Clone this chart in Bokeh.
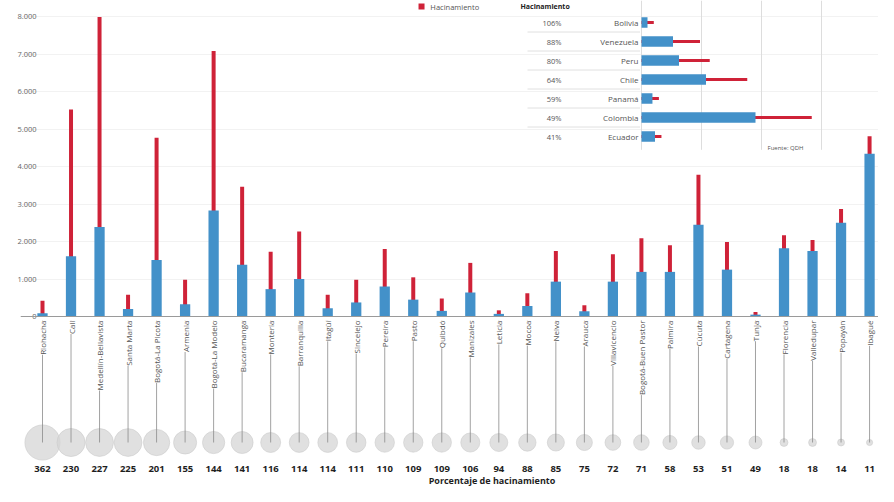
import math
from bokeh.plotting import figure
from bokeh.models import Range1d, FixedTicker, Span
from bokeh.core.properties import value
from bokeh.embed import file_html
from bokeh.resources import INLINE

# ---- data ----
ciudades = ["Riohacha", "Cali", "Medellín-Bellavista", "Santa Marta", "Bogotá-La Picota",
            "Armenia", "Bogotá-La Modelo", "Bucaramanga", "Montería", "Barranquilla",
            "Itagüí", "Sincelejo", "Pereira", "Pasto", "Quibdó", "Manizales", "Leticia",
            "Mocoa", "Neiva", "Arauca", "Villavicencio", "Bogotá-Buen Pastor", "Palmira",
            "Cúcuta", "Cartagena", "Tunja", "Florencia", "Valledupar", "Popayán", "Ibagué"]
porcentaje = [362, 230, 227, 225, 201, 155, 144, 141, 116, 114, 114, 111, 110, 109, 109,
              106, 94, 88, 85, 75, 72, 71, 58, 53, 51, 49, 18, 18, 14, 11]
capacidad = [90, 1610, 2390, 200, 1510, 330, 2830, 1380, 730, 1000, 220, 375, 800, 450, 150,
             640, 70, 280, 930, 140, 930, 1190, 1190, 2450, 1250, 50, 1820, 1750, 2500, 4340]
poblacion = [420, 5520, 7990, 580, 4770, 980, 7080, 3460, 1730, 2270, 580, 980, 1800, 1045, 480,
             1430, 165, 620, 1750, 300, 1660, 2090, 1900, 3780, 1990, 120, 2170, 2040, 2870, 4810]
yticks = [0, 1000, 2000, 3000, 4000, 5000, 6000, 7000, 8000]

paises = ["Bolivia", "Venezuela", "Peru", "Chile", "Panamá", "Colombia", "Ecuador"]
paises_pct = ["106%", "88%", "80%", "64%", "59%", "49%", "41%"]
paises_cap = [4, 21, 25, 43, 7.3, 76, 9]          # miles
paises_pob = [8.2, 39, 45.5, 70.5, 11.6, 113.5, 13.3]
inset_grid = [0, 40, 80, 120]

FONT = value("Open Sans")
BLUE = "#4391c9"
RED = "#cf2238"

idx = list(range(len(ciudades)))

p = figure(width=878, height=486,
           x_range=Range1d(-0.7714, 29.313), y_range=Range1d(-4533, 8427),
           x_axis_location=None, output_backend="svg", toolbar_location=None,
           min_border_left=20, min_border_right=0, min_border_top=0, min_border_bottom=0)
p.outline_line_color = None
p.xgrid.visible = False
p.ygrid.grid_line_color = "#f2f2f2"

ya = p.yaxis[0]
ya.ticker = FixedTicker(ticks=yticks)
ya.major_label_overrides = {t: f"{t:,}".replace(",", ".") for t in yticks}
ya.axis_line_color = None
ya.major_tick_line_color = None
ya.major_tick_in = 0
ya.major_tick_out = 0
ya.minor_tick_line_color = None
ya.major_label_standoff = -16
ya.major_label_text_font = "Open Sans"
ya.major_label_text_font_size = "7.5px"
ya.major_label_text_color = "#666666"

p.add_layout(Span(location=0, dimension="width", line_color="#9a9a9a", line_width=1.2))

# bars
p.vbar(x=idx, top=poblacion, bottom=0, width=0.14, fill_color=RED, line_color=None)
p.vbar(x=idx, top=capacidad, bottom=0, width=0.36, fill_color=BLUE, line_color=None)

# lower part: circles, connector lines, labels, percentages
Y_LABEL = -107
Y_CIRCLE = -3360
Y_PCT = -4053
sizes = [1.85 * math.sqrt(v) for v in porcentaje]
p.scatter(x=idx, y=[Y_CIRCLE] * len(idx), size=sizes, marker="circle",
          fill_color="#d6d6d6", fill_alpha=0.75, line_color="#cccccc", line_alpha=0.6)
p.segment(x0=idx, y0=[Y_LABEL] * len(idx), x1=idx, y1=[Y_CIRCLE] * len(idx),
          line_color="#8a8a8a", line_width=0.8)
p.text(x=idx, y=[Y_LABEL] * len(idx), text=ciudades, angle=math.pi / 2,
       text_align="right", text_baseline="middle", text_font=FONT,
       text_font_size="8px", text_color="#555555",
       background_fill_color="white")
p.text(x=idx, y=[Y_PCT] * len(idx), text=[str(v) for v in porcentaje],
       text_align="center", text_baseline="middle", text_font=FONT,
       text_font_size="9.5px", text_font_style="bold", text_color="#1e1e1e")
p.text(x=[15.76], y=[-4370], text=["Porcentaje de hacinamiento"],
       text_align="center", text_baseline="middle", text_font=FONT,
       text_font_size="9px", text_font_style="bold", text_color="#1e1e1e")

# legend (at the top edge)
p.scatter(x=[13.29], y=[8267], marker="square", size=6, fill_color=RED, line_color=None)
p.text(x=[13.6], y=[8267], text=["Hacinamiento"], text_align="left",
       text_baseline="middle", text_font=FONT, text_font_size="7.5px", text_color="#555555")

# ---- inset: countries ----
p.extra_x_ranges = {"ix": Range1d(-414, 158)}
p.extra_y_ranges = {"iy": Range1d(24.42, -1.158)}
rows = list(range(len(paises)))
kw = dict(x_range_name="ix", y_range_name="iy")

p.segment(x0=inset_grid, y0=[-1.16] * 4, x1=inset_grid, y1=[6.7] * 4,
          line_color="#dddddd", line_width=1, **kw)
p.segment(x0=[-76] * 6, y0=[r + 0.5 for r in rows[:-1]], x1=[-1] * 6,
          y1=[r + 0.5 for r in rows[:-1]], line_color="#d8d8d8", line_width=0.8, **kw)
p.hbar(y=rows, left=0, right=paises_pob, height=0.17, fill_color=RED, line_color=None, **kw)
p.hbar(y=rows, left=0, right=paises_cap, height=0.55, fill_color=BLUE, line_color=None, **kw)
p.text(x=[-2] * len(rows), y=rows, text=paises, text_align="right", text_baseline="middle",
       text_font=FONT, text_font_size="8px", text_color="#555555", **kw)
p.text(x=[-53.3] * len(rows), y=rows, text=paises_pct, text_align="right",
       text_baseline="middle", text_font=FONT, text_font_size="7.5px",
       text_color="#555555", **kw)
p.text(x=[-80.7], y=[-0.84], text=["Hacinamiento"], text_align="left",
       text_baseline="middle", text_font=FONT, text_font_size="7px",
       text_font_style="bold", text_color="#222222", **kw)
p.text(x=[96], y=[6.58], text=["Fuente: QDH"], text_align="center",
       text_baseline="middle", text_font=FONT, text_font_size="6px",
       text_color="#555555", **kw)

open("out.html", "w").write(file_html(p, INLINE))
